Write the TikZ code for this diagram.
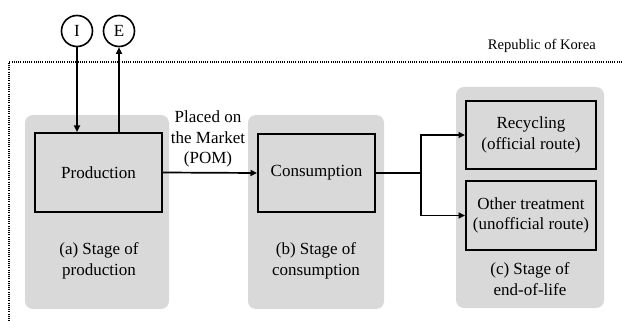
\documentclass[tikz,border=0pt]{standalone}
\usepackage{fontspec}
\setmainfont{Liberation Serif}
\usetikzlibrary{arrows.meta}
\definecolor{panelgray}{HTML}{D9D9D9}
\begin{document}
\begin{tikzpicture}[x=1pt,y=-1pt,
  panel/.style={fill=panelgray, rounded corners=8pt},
  stagebox/.style={draw, line width=2pt, inner sep=0pt, align=center,
    font=\fontsize{17}{20.5}\selectfont},
  lbl/.style={font=\fontsize{17}{20.5}\selectfont, align=center, inner sep=0pt},
  conn/.style={line width=1.7pt, -{Triangle[length=6.5pt,width=6pt]}},
  plain/.style={line width=1.7pt},
  flowcircle/.style={circle, draw, line width=1.6pt, minimum size=31pt, inner sep=0pt,
    font=\fontsize{17}{20.5}\selectfont},
  border/.style={line width=1.5pt, dash pattern=on 1.1pt off 1.1pt}
]
\useasboundingbox (0,0) rectangle (622,321);

% panels
\fill[panel] (25,115) rectangle (169,309);
\fill[panel] (248,115) rectangle (384,309);
\fill[panel] (456,87) rectangle (604,308);

% country border
\draw[border] (622,62) -- (9,62) -- (9,321);
\node[anchor=east, inner sep=0pt, font=\fontsize{14.6}{16}\selectfont] (rok) at (596,46) {Republic of Korea};

% boxes
\node[stagebox, minimum width=127pt, minimum height=79pt] (prod) at (98.5,172.5) {Production};
\node[stagebox, minimum width=117pt, minimum height=78pt] (cons) at (316.5,173) {Consumption};
\node[stagebox, minimum width=130pt, minimum height=68pt] (rec) at (531,135) {Recycling\\(official route)};
\node[stagebox, minimum width=130pt, minimum height=69pt] (oth) at (531,215.5) {Other treatment\\(unofficial route)};

% stage labels
\node[lbl] (la) at (99,261) {(a) Stage of\\production};
\node[lbl] (lb) at (316,261) {(b) Stage of\\consumption};
\node[lbl] (lc) at (530,279) {(c) Stage of\\end-of-life};

% POM
\node[lbl] (pom) at (208,139) {Placed on\\the Market\\(POM)};

% circles
\node[flowcircle] (I) at (77,31) {I};
\node[flowcircle] (E) at (119,31) {E};

% connectors
\draw[conn] (I.south) -- (I.south |- prod.north);
\draw[conn] (E.south |- prod.north) -- (E.south);
\draw[conn] (prod.east) -- (cons.west);
\coordinate (br) at (421,173);
\draw[plain] (cons.east) -- (br);
\draw[conn] (br) |- (rec.west);
\draw[conn] (br) |- (oth.west);
\end{tikzpicture}
\end{document}
